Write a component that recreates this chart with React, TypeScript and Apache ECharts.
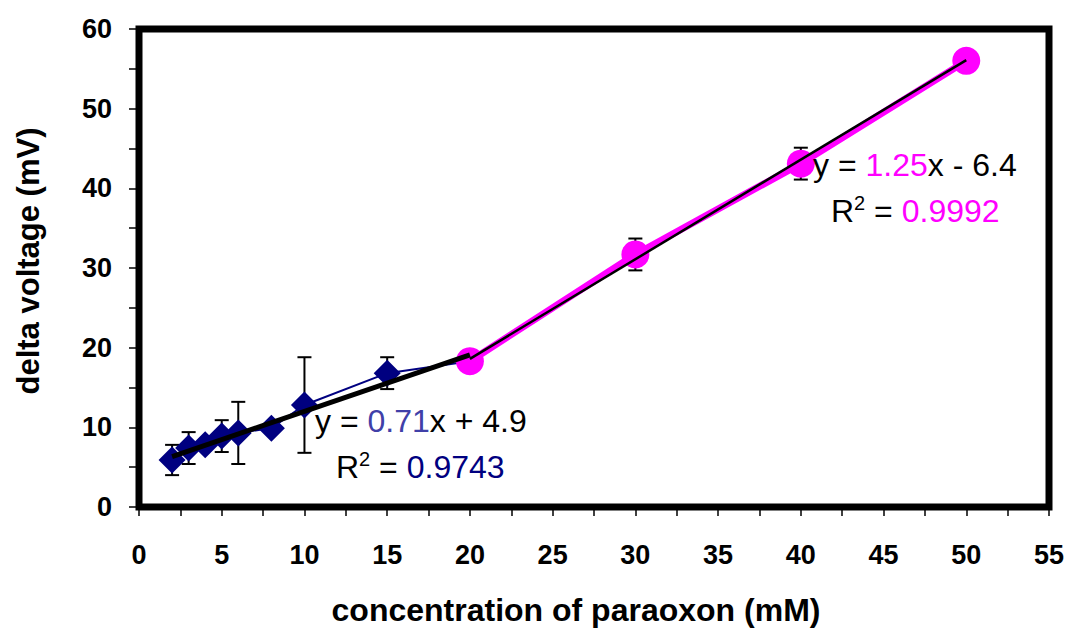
import React, { useEffect, useRef } from "react";
import * as echarts from "echarts";

// ---- data ----
const navyX = [2, 3, 4, 5, 6, 8, 10, 15, 20];
const navyY = [5.9, 7.4, 7.8, 8.9, 9.3, 9.9, 12.8, 16.8, 18.3];
const navyErr = [1.9, 2.0, 0.4, 2.0, 3.9, 0.4, 6.0, 2.0, 0.4];

const pinkX = [20, 30, 40, 50];
const pinkY = [18.3, 31.7, 43.1, 56.0];
const pinkErr = [0.4, 2.0, 2.0, 0.4];

// trendlines as shown in the chart's equations
const trend1 = { slope: 0.71, intercept: 4.9, from: 2, to: 20, r2: "0.9743" };
const trend2 = { slope: 1.25, intercept: -6.4, from: 20, to: 50, r2: "0.9992" };

const xTicks = { min: 0, max: 55, interval: 5 };
const yTicks = { min: 0, max: 60, interval: 10 };

const FONT = "Liberation Sans, Arial, sans-serif";

function trendData(t: { slope: number; intercept: number; from: number; to: number }) {
  return [t.from, t.to].map((x) => [x, t.slope * x + t.intercept]);
}

function fmtIntercept(b: number) {
  return b < 0 ? `x - ${Math.abs(b)}` : `x + ${b}`;
}

export default function App() {
  const ref = useRef<HTMLDivElement>(null);
  useEffect(() => {
    if (!ref.current) return;
    const chart = echarts.init(ref.current, undefined, { renderer: "svg" });

    const errRender = (params: any, api: any) => {
      const x = api.value(0);
      const y = api.value(1);
      const e = api.value(2);
      const top = api.coord([x, y + e]);
      const bot = api.coord([x, y - e]);
      const hw = 7;
      const st = { stroke: "#000", lineWidth: 2 };
      return {
        type: "group",
        children: [
          { type: "line", shape: { x1: top[0], y1: top[1], x2: bot[0], y2: bot[1] }, style: st },
          { type: "line", shape: { x1: top[0] - hw, y1: top[1], x2: top[0] + hw, y2: top[1] }, style: st },
          { type: "line", shape: { x1: bot[0] - hw, y1: bot[1], x2: bot[0] + hw, y2: bot[1] }, style: st },
        ],
      };
    };

    const AFS = 32;
    const annStyle = (color: string) => ({ fontFamily: FONT, fontSize: AFS, fill: color });

    const makeAnn = (
      t: { slope: number; intercept: number; r2: string },
      eqColor: string,
      rColor: string,
      eqLeft: number,
      eqTop: number,
      rLeft: number,
      rTop: number
    ) => [
      {
        type: "text",
        left: eqLeft,
        top: eqTop,
        z: 100,
        style: {
          text: `{k|y = }{c|${t.slope}}{k|${fmtIntercept(t.intercept)}}`,
          rich: { k: annStyle("#000"), c: annStyle(eqColor) },
          fontFamily: FONT,
          fontSize: AFS,
        },
      },
      {
        type: "text",
        left: rLeft,
        top: rTop,
        z: 100,
        style: {
          text: `{k|R}{s|2}{k| = }{c|${t.r2}}`,
          rich: {
            k: annStyle("#000"),
            c: annStyle(rColor),
            s: { fontFamily: FONT, fontSize: 20, fill: "#000", verticalAlign: "top", padding: [0, 0, 15, 0] },
          },
          fontFamily: FONT,
          fontSize: AFS,
        },
      },
    ];

    chart.setOption({
      animation: false,
      backgroundColor: "#fff",
      grid: {
        left: 139,
        top: 29,
        right: 20,
        bottom: 121,
        show: true,
        borderColor: "#000",
        borderWidth: 7,
        containLabel: false,
        outerBoundsMode: "none",
      },
      xAxis: {
        type: "value",
        min: xTicks.min,
        max: xTicks.max,
        interval: xTicks.interval,
        name: "concentration of paraoxon (mM)",
        nameLocation: "middle",
        nameGap: 87,
        nameTextStyle: {
          fontFamily: FONT,
          fontSize: 32,
          fontWeight: "bold",
          color: "#000",
          padding: [0, 36, 0, 0],
        },
        axisLine: { show: false },
        axisTick: { show: true, length: 9, lineStyle: { color: "#000", width: 1.5 } },
        minorTick: { show: true, splitNumber: 2, length: 9, lineStyle: { color: "#000", width: 1.5 } },
        splitLine: { show: false },
        axisLabel: { fontFamily: FONT, fontSize: 27, fontWeight: "bold", color: "#000", margin: 34 },
      },
      yAxis: {
        type: "value",
        min: yTicks.min,
        max: yTicks.max,
        interval: yTicks.interval,
        name: "delta voltage (mV)",
        nameLocation: "middle",
        nameRotate: 90,
        nameGap: 95,
        nameTextStyle: {
          fontFamily: FONT,
          fontSize: 31,
          fontWeight: "bold",
          color: "#000",
          padding: [0, 0, 0, 14],
        },
        axisLine: { show: false },
        axisTick: { show: true, length: 10, lineStyle: { color: "#000", width: 1.5 } },
        minorTick: { show: true, splitNumber: 2, length: 10, lineStyle: { color: "#000", width: 1.5 } },
        splitLine: { show: false },
        axisLabel: { fontFamily: FONT, fontSize: 27, fontWeight: "bold", color: "#000", margin: 27 },
      },
      series: [
        {
          type: "custom",
          name: "navyErr",
          z: 1,
          renderItem: errRender,
          data: navyX.map((x, i) => [x, navyY[i], navyErr[i]]),
        },
        {
          type: "custom",
          name: "pinkErr",
          z: 1,
          renderItem: errRender,
          data: pinkX.map((x, i) => [x, pinkY[i], pinkErr[i]]),
        },
        {
          type: "line",
          name: "navy",
          z: 2,
          data: navyX.map((x, i) => [x, navyY[i]]),
          symbol: "diamond",
          symbolSize: 27,
          itemStyle: { color: "#000080" },
          lineStyle: { color: "#000080", width: 2 },
        },
        {
          type: "line",
          name: "pink",
          z: 3,
          data: pinkX.map((x, i) => [x, pinkY[i]]),
          symbol: "circle",
          symbolSize: 28,
          itemStyle: { color: "#ff00ff" },
          lineStyle: { color: "#ff00ff", width: 7 },
        },
        {
          type: "line",
          name: "trend1",
          z: 5,
          data: trendData(trend1),
          symbol: "none",
          lineStyle: { color: "#000", width: 5 },
        },
        {
          type: "line",
          name: "trend2",
          z: 5,
          data: trendData(trend2),
          symbol: "none",
          lineStyle: { color: "#000", width: 2.5 },
        },
      ],
      graphic: [
        ...makeAnn(trend1, "#4040a8", "#000080", 315, 405, 336, 449),
        ...makeAnn(trend2, "#ff00ff", "#ff00ff", 813, 149, 831, 193),
      ],
    });

    return () => chart.dispose();
  }, []);

  return (
    <div
      ref={ref}
      style={{ position: "fixed", left: 0, top: 0, width: 1069, height: 628 }}
    />
  );
}
